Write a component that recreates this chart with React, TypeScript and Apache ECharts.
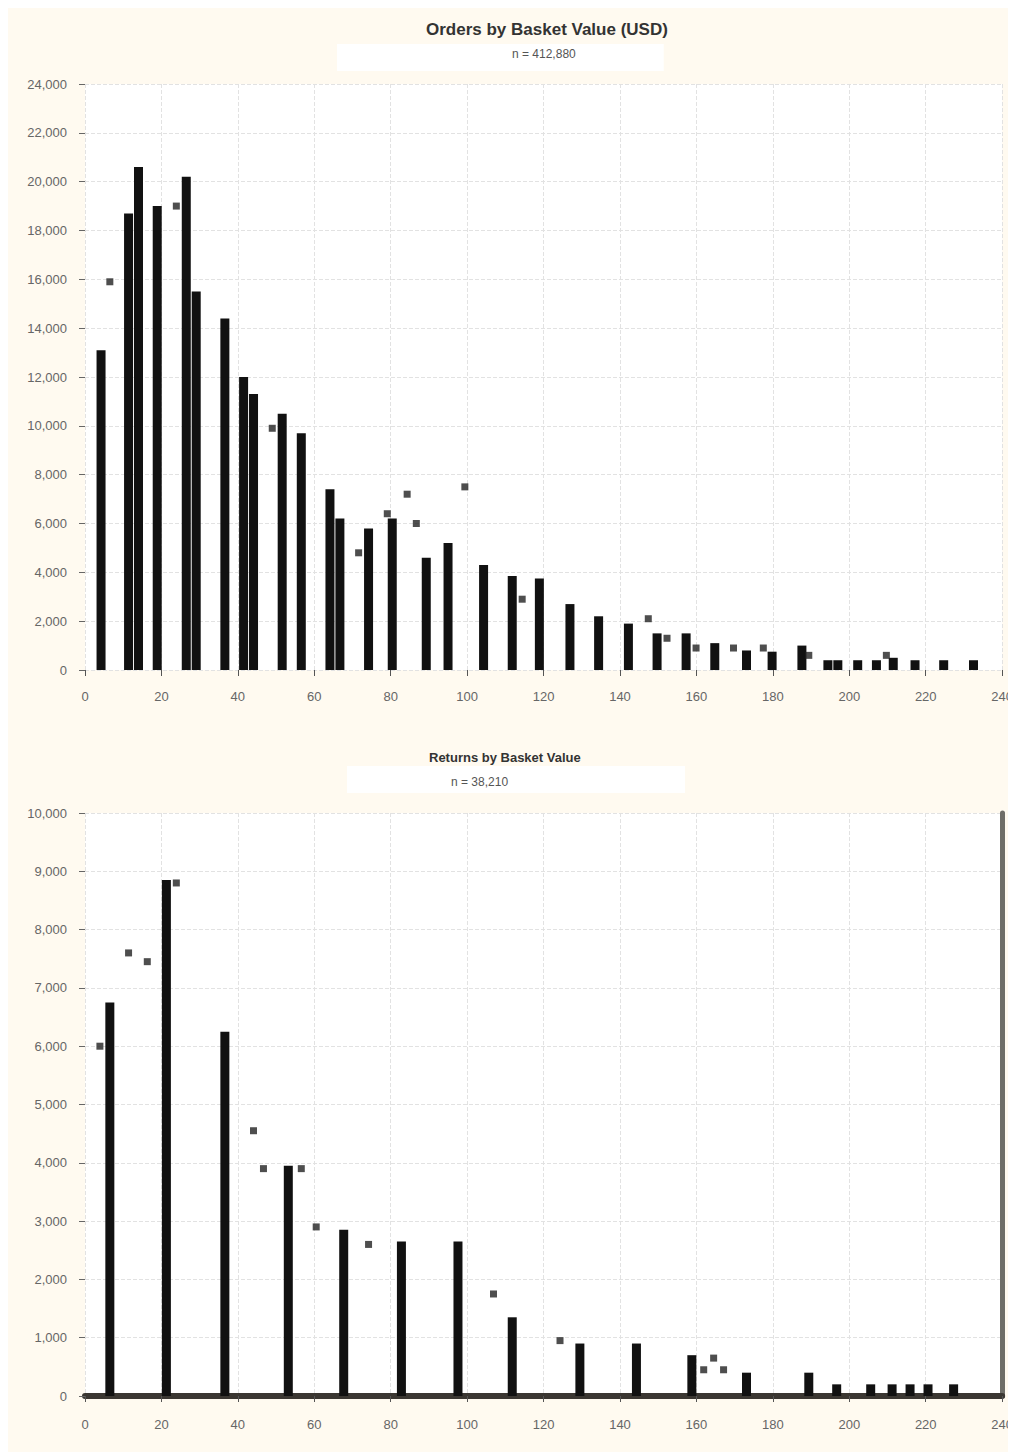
import React, { useEffect, useRef } from "react";
import * as echarts from "echarts";

// ---- texts ----
const topTitle = "Orders by Basket Value (USD)";
const topNote = "n = 412,880";
const bottomTitle = "Returns by Basket Value";
const bottomNote = "n = 38,210";

// ---- axes ----
const xMin = 0;
const xMax = 240;
const xStep = 20;
const topYMax = 24000;
const topYStep = 2000;
const bottomYMax = 10000;
const bottomYStep = 1000;

// ---- top chart: bars (x position, value) ----
const topBarX = [4.2, 11.4, 14.0, 18.9, 26.5, 29.1, 36.6, 41.5, 44.1, 51.6, 56.6, 64.1, 66.7, 74.2, 80.4, 89.3, 95.0, 104.3, 111.8, 118.9, 126.9, 134.4, 142.2, 149.7, 157.3, 164.8, 173.1, 179.8, 187.6, 194.4, 197.0, 202.2, 207.1, 211.5, 217.2, 224.7, 232.5];
const topBarY = [13100, 18700, 20600, 19000, 20200, 15500, 14400, 12000, 11300, 10500, 9700, 7400, 6200, 5800, 6200, 4600, 5200, 4300, 3850, 3750, 2700, 2200, 1900, 1500, 1500, 1100, 800, 750, 1000, 400, 400, 400, 400, 500, 400, 400, 400];

// ---- top chart: points ----
const topPointX = [6.5, 23.9, 49.0, 71.6, 79.1, 84.3, 86.7, 99.4, 114.4, 147.4, 152.3, 159.9, 169.7, 177.5, 189.4, 209.7];
const topPointY = [15900, 19000, 9900, 4800, 6400, 7200, 6000, 7500, 2900, 2100, 1300, 900, 900, 900, 600, 600];

// ---- bottom chart: bars ----
const bottomBarX = [6.5, 21.3, 36.6, 53.2, 67.7, 82.8, 97.6, 111.8, 129.5, 144.3, 158.8, 173.1, 189.4, 196.7, 205.6, 211.2, 215.9, 220.6, 227.3];
const bottomBarY = [6750, 8850, 6250, 3950, 2850, 2650, 2650, 1350, 900, 900, 700, 400, 400, 200, 200, 200, 200, 200, 200];

// ---- bottom chart: points ----
const bottomPointX = [3.9, 11.4, 16.3, 23.9, 44.1, 46.7, 56.6, 60.5, 74.2, 106.9, 124.3, 161.9, 164.5, 167.1];
const bottomPointY = [6000, 7600, 7450, 8800, 4550, 3900, 3900, 2900, 2600, 1750, 950, 450, 650, 450];

const pairs = (xs: number[], ys: number[]) => xs.map((x, i) => [x, ys[i]]);
const fmt = (v: number) => v.toLocaleString("en-US");

const FONT = "'Liberation Sans', Arial, sans-serif";

export default function App() {
  const ref = useRef<HTMLDivElement>(null);
  useEffect(() => {
    document.body.style.overflow = "hidden";
    const chart = echarts.init(ref.current!, undefined, { renderer: "svg" });
    const splitLine = { show: true, lineStyle: { type: "dashed", color: "#e2e2e2", width: 1 } };
    const xAxisBase = {
      type: "value",
      min: xMin,
      max: xMax,
      interval: xStep,
      splitLine,
      axisTick: { show: true, length: 6, lineStyle: { color: "#555" } },
    };
    const option: any = {
      animation: false,
      backgroundColor: "#fffaf0",
      textStyle: { fontFamily: FONT },
      title: [
        {
          text: topTitle,
          left: 413,
          top: 8,
          textStyle: { fontSize: 17, fontWeight: "bold", color: "#333", fontFamily: FONT },
        },
        {
          text: topNote,
          left: 329,
          top: 36,
          backgroundColor: "#ffffff",
          padding: [4, 88, 11, 175],
          textStyle: { fontSize: 12, fontWeight: "normal", color: "#555", fontFamily: FONT },
        },
        {
          text: bottomTitle,
          left: 416,
          top: 738,
          textStyle: { fontSize: 13, fontWeight: "bold", color: "#333", fontFamily: FONT },
        },
        {
          text: bottomNote,
          left: 339,
          top: 758,
          backgroundColor: "#ffffff",
          padding: [10, 177, 5, 104],
          textStyle: { fontSize: 12, fontWeight: "normal", color: "#555", fontFamily: FONT },
        },
      ],
      grid: [
        { left: 77, top: 76, width: 928, height: 586, show: true, backgroundColor: "#ffffff", borderWidth: 0 },
        { left: 77, top: 805, width: 925, height: 583, show: true, backgroundColor: "#ffffff", borderWidth: 0 },
      ],
      xAxis: [
        {
          ...xAxisBase,
          gridIndex: 0,
          axisLine: { show: false },
          axisLabel: { margin: 20, fontSize: 13, color: "#666", fontFamily: FONT },
        },
        {
          ...xAxisBase,
          gridIndex: 1,
          axisLine: { show: true, lineStyle: { color: "#3b3732", width: 6 } },
          axisLabel: { margin: 22, fontSize: 13, color: "#666", fontFamily: FONT },
        },
      ],
      yAxis: [
        {
          type: "value",
          gridIndex: 0,
          min: 0,
          max: topYMax,
          interval: topYStep,
          axisLine: { show: false },
          axisTick: { show: true, length: 6, lineStyle: { color: "#666" } },
          axisLabel: { margin: 18, fontSize: 13, color: "#666", fontFamily: FONT, formatter: fmt },
          splitLine,
        },
        {
          type: "value",
          gridIndex: 1,
          min: 0,
          max: bottomYMax,
          interval: bottomYStep,
          axisLine: { show: false },
          axisTick: { show: true, length: 6, lineStyle: { color: "#666" } },
          axisLabel: { margin: 18, fontSize: 13, color: "#666", fontFamily: FONT, formatter: fmt },
          splitLine,
        },
        {
          type: "value",
          gridIndex: 1,
          position: "right",
          min: 0,
          max: bottomYMax,
          interval: bottomYStep,
          axisLine: { show: true, onZero: false, lineStyle: { color: "#6f6e68", width: 5 } },
          axisTick: { show: false },
          axisLabel: { show: false },
          splitLine: { show: false },
        },
      ],
      series: [
        {
          type: "bar",
          xAxisIndex: 0,
          yAxisIndex: 0,
          barWidth: 9,
          itemStyle: { color: "#111111" },
          data: pairs(topBarX, topBarY),
        },
        {
          type: "scatter",
          xAxisIndex: 0,
          yAxisIndex: 0,
          symbol: "rect",
          symbolSize: 7,
          itemStyle: { color: "#222222" },
          data: pairs(topPointX, topPointY),
        },
        {
          type: "bar",
          xAxisIndex: 1,
          yAxisIndex: 1,
          barWidth: 9,
          itemStyle: { color: "#111111" },
          data: pairs(bottomBarX, bottomBarY),
        },
        {
          type: "scatter",
          xAxisIndex: 1,
          yAxisIndex: 1,
          symbol: "rect",
          symbolSize: 7,
          itemStyle: { color: "#222222" },
          data: pairs(bottomPointX, bottomPointY),
        },
      ],
    };
    chart.setOption(option);
    return () => chart.dispose();
  }, []);
  return <div ref={ref} style={{ width: 1008, height: 1444 }} />;
}
